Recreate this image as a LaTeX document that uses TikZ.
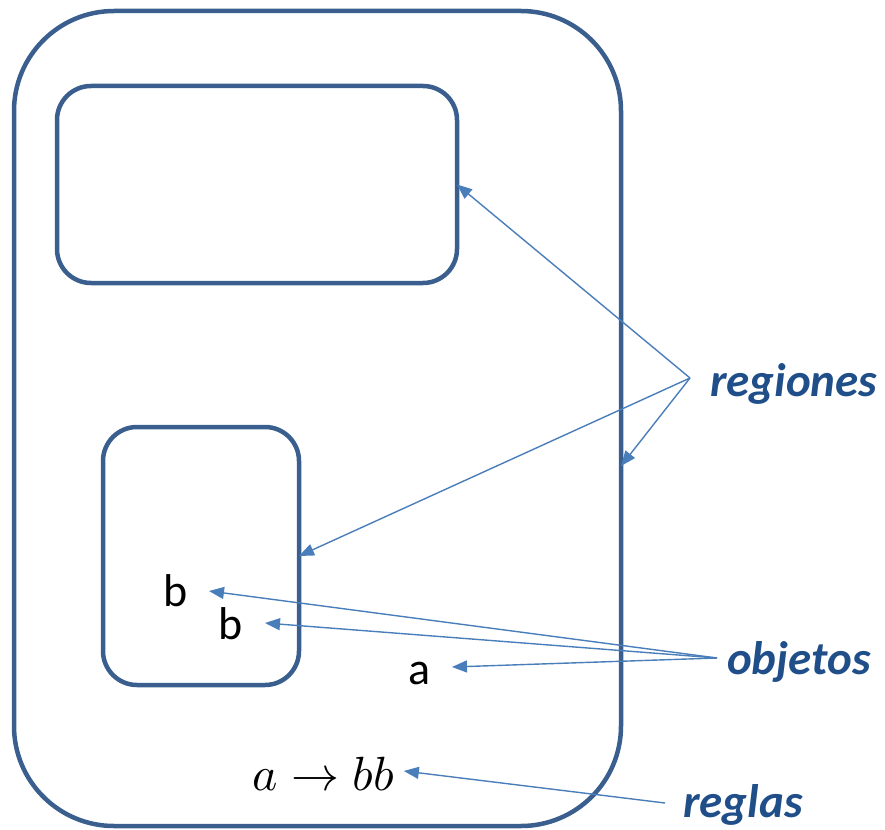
\documentclass[tikz,border=0pt]{standalone}
\usepackage{graphicx}
\usepackage{fontspec}
\setmainfont{Carlito}
\usetikzlibrary{arrows.meta}
\definecolor{boxblue}{HTML}{3A5F8F}
\definecolor{arrowblue}{HTML}{4A7EBB}
\definecolor{labelblue}{HTML}{1F4E89}
\tikzset{
  region/.style={draw=boxblue, line width=4.5pt, inner sep=0pt, outer sep=0pt},
  pointer/.style={draw=arrowblue, line width=1.4pt, -{Triangle[length=15pt,width=12pt]}},
  lbl/.style={text=labelblue, font=\fontsize{47}{54}\selectfont\bfseries\itshape, inner sep=0pt, anchor=west},
  obj/.style={font=\fontsize{46}{52}\selectfont, inner sep=0pt}
}
\begin{document}
\begin{tikzpicture}[x=1pt,y=-1pt]
\useasboundingbox (0,0) rectangle (885,829);
\node[region, rounded corners=100pt, minimum width=607pt, minimum height=815pt] (outer) at (317.5,418.5) {};
\node[region, rounded corners=34pt, minimum width=400pt, minimum height=197pt] (upper) at (257,184.5) {};
\node[region, rounded corners=34pt, minimum width=196pt, minimum height=258pt] (lower) at (201,556) {};
\node[obj] (b1) at (175.5,591) {b};
\node[obj] (b2) at (231,623.5) {b};
\node[obj] (a1) at (420,673) {a};
\node[inner sep=0pt] (rule) at (323,774) {\normalsize\scalebox{4.8}{$a \rightarrow bb$}};
\node[lbl] (regiones) at (710,384) {regiones};
\node[lbl] (objetos) at (727,662) {objetos};
\node[lbl] (reglas) at (683,805) {reglas};
\coordinate (rg) at (690,378);
\coordinate (ob) at (717,658);
\coordinate (rl) at (665,803);
\coordinate (outerpt) at (621,466);
\coordinate (b1tip) at (209,591);
\coordinate (b2tip) at (265,623);
\coordinate (atip) at (452,667);
\draw[pointer] (rg) -- (upper.east);
\draw[pointer] (rg) -- (lower.east);
\draw[pointer] (rg) -- (outerpt);
\draw[pointer] (ob) -- (b1tip);
\draw[pointer] (ob) -- (b2tip);
\draw[pointer] (ob) -- (atip);
\draw[pointer] (rl) -- ([xshift=10pt,yshift=3pt]rule.east);
\end{tikzpicture}
\end{document}
